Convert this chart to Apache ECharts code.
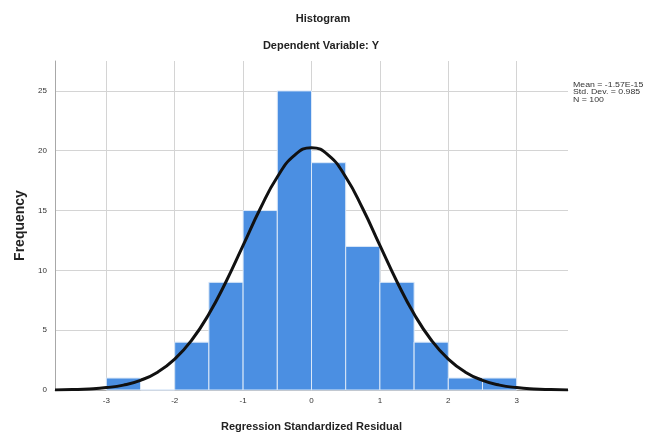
<!DOCTYPE html>
<html>
<head>
<meta charset="utf-8">
<script src="https://cdn.jsdelivr.net/npm/echarts@6/dist/echarts.min.js"></script>
<style>html,body{margin:0;padding:0;background:#fff;}#c{width:651px;height:437px;}</style>
</head>
<body>
<div id="c"></div>
<script>
// Histogram bins (left edges, width 0.5) and counts
const binStarts = [-3, -2.5, -2, -1.5, -1, -0.5, 0, 0.5, 1, 1.5, 2, 2.5];
const binCounts = [1, 0, 4, 9, 15, 25, 19, 12, 9, 4, 1, 1];
const binWidth = 0.5;
// Normal curve
const curveX = [-3.75,-3.5,-3.25,-3,-2.75,-2.5,-2.25,-2,-1.75,-1.5,-1.25,-1,-0.75,-0.5,-0.25,0,0.25,0.5,0.75,1,1.25,1.5,1.75,2,2.25,2.5,2.75,3,3.25,3.5,3.75];
const curveY = [0.01,0.04,0.09,0.2,0.41,0.81,1.49,2.58,4.18,6.35,9.05,12.09,15.15,17.8,19.61,20.25,19.61,17.8,15.15,12.09,9.05,6.35,4.18,2.58,1.49,0.81,0.41,0.2,0.09,0.04,0.01];
// Axis ticks
const xTicks = [-3, -2, -1, 0, 1, 2, 3];
const yTicks = [0, 5, 10, 15, 20, 25];
const statsLines = ['Mean = -1.57E-15', 'Std. Dev. = 0.985', 'N = 100'];

const chart = echarts.init(document.getElementById('c'), null, {renderer: 'canvas'});
const fontFam = '"Liberation Sans", Arial, sans-serif';
const gridColor = '#d4d4d4';

const option = {
  backgroundColor: '#fff',
  animation: false,
  title: [
    {text: 'Histogram', left: 318, top: 8, textAlign: 'center',
     textStyle: {fontFamily: fontFam, fontSize: 11, fontWeight: 'bold', color: '#222'}},
    {text: 'Dependent Variable: Y', left: 316, top: 35, textAlign: 'center',
     textStyle: {fontFamily: fontFam, fontSize: 11, fontWeight: 'bold', color: '#222'}}
  ],
  grid: {left: 55, right: 83, top: 61, bottom: 46, containLabel: false},
  xAxis: {
    type: 'value', min: -3.75, max: 3.75, interval: 0.25,
    name: 'Regression Standardized Residual', nameLocation: 'middle', nameGap: 31,
    nameTextStyle: {fontFamily: fontFam, fontSize: 11, fontWeight: 'bold', color: '#222'},
    axisLine: {show: true, onZero: false, lineStyle: {color: '#a8a8a8', width: 1}},
    axisTick: {show: false},
    splitLine: {show: false},
    axisLabel: {
      fontFamily: fontFam, fontSize: 8, color: '#333', margin: 7,
      formatter: v => xTicks.indexOf(Math.round(v * 100) / 100) >= 0 ? String(Math.round(v)) : ''
    }
  },
  yAxis: {
    type: 'value', min: 0, max: 27.5, interval: 2.5,
    name: 'Frequency', nameLocation: 'middle', nameGap: 26,
    nameTextStyle: {fontFamily: fontFam, fontSize: 14, fontWeight: 'bold', color: '#222'},
    axisLine: {show: true, onZero: false, lineStyle: {color: '#a8a8a8', width: 1}},
    axisTick: {show: false},
    splitLine: {show: false},
    axisLabel: {
      fontFamily: fontFam, fontSize: 8, color: '#333', margin: 8,
      formatter: v => yTicks.indexOf(Math.round(v * 100) / 100) >= 0 ? String(Math.round(v)) : ''
    }
  },
  graphic: [{
    type: 'text', left: 573, top: 81, scaleX: 1.25,
    style: {text: statsLines.join('\n'), font: '7px ' + fontFam, fill: '#333', lineHeight: 7.5}
  }],
  series: [
    {
      type: 'line', data: [], silent: true, z: 0,
      markLine: {
        silent: true, symbol: 'none', label: {show: false}, z: 0,
        lineStyle: {color: gridColor, type: 'solid', width: 1},
        data: xTicks.map(v => ({xAxis: v})).concat(yTicks.filter(v => v > 0).map(v => ({yAxis: v})))
      }
    },
    {
      type: 'custom',
      data: binStarts.map((s, i) => [s, s + binWidth, binCounts[i]]),
      encode: {x: [0, 1], y: 2},
      renderItem: function (params, api) {
        const p0 = api.coord([api.value(0), api.value(2)]);
        const p1 = api.coord([api.value(1), 0]);
        return {
          type: 'rect',
          shape: {x: p0[0], y: p0[1], width: p1[0] - p0[0], height: p1[1] - p0[1]},
          style: {fill: '#4b8fe2', stroke: '#dbe8f8', lineWidth: 1}
        };
      },
      z: 3
    },
    {
      type: 'line',
      data: curveX.map((x, i) => [x, curveY[i]]),
      smooth: true, showSymbol: false, symbol: 'none',
      lineStyle: {color: '#111', width: 3},
      z: 5
    }
  ]
};
chart.setOption(option);
</script>
</body>
</html>
